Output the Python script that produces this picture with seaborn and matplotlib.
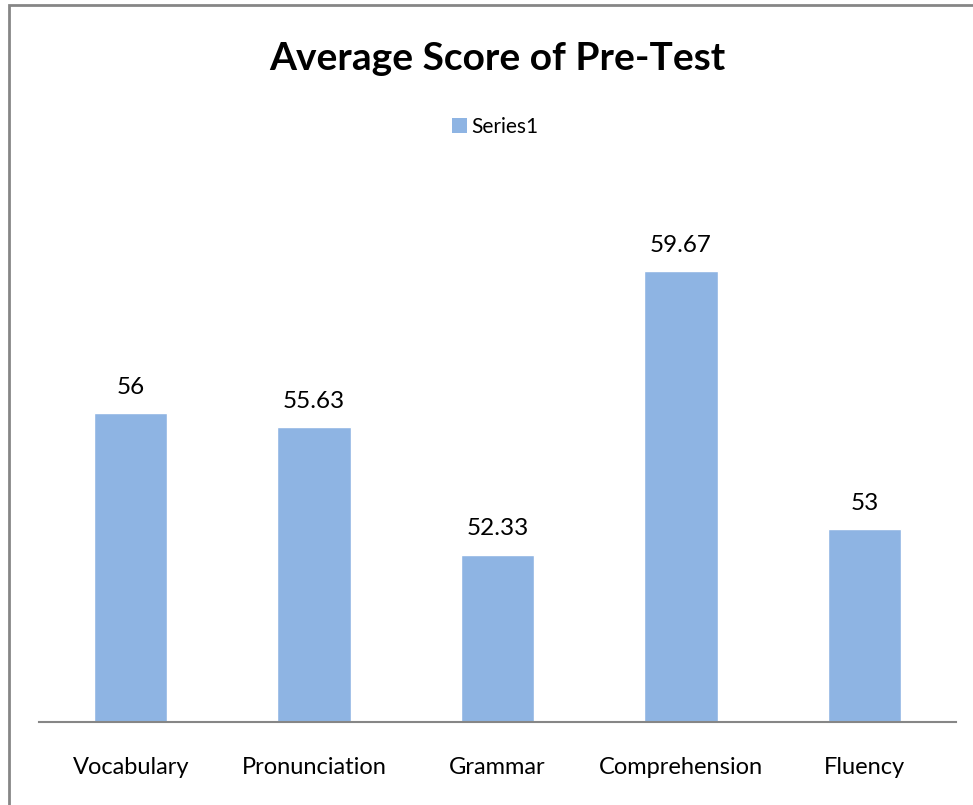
import matplotlib
matplotlib.use("Agg")
import matplotlib.pyplot as plt
import seaborn as sns
import pandas as pd
from matplotlib.patches import Rectangle, Patch

categories = ["Vocabulary", "Pronunciation", "Grammar", "Comprehension", "Fluency"]
values = [56, 55.63, 52.33, 59.67, 53]
value_labels = ["56", "55.63", "52.33", "59.67", "53"]
series_name = "Series1"
title = "Average Score of Pre-Test"

sns.set_theme(style="white")
plt.rcParams['font.family'] = ['Lato', 'DejaVu Sans']

df = pd.DataFrame({"category": categories, "value": values})

fig = plt.figure(figsize=(9.73, 8.05), dpi=100)
ax = fig.add_axes([39/973, 1-722/805, (956-39)/973, (722-181)/805])

bar_color = "#8EB4E3"
sns.barplot(data=df, x="category", y="value", color=bar_color, width=0.4,
            saturation=1, ax=ax)

ax.set_ylim(48, 62)
ax.set_xlim(-0.5, 4.5)
ax.set_xlabel("")
ax.set_ylabel("")
ax.set_yticks([])
for s in ["top", "left", "right"]:
    ax.spines[s].set_visible(False)
ax.spines["bottom"].set_color("#868686")
ax.spines["bottom"].set_linewidth(1.5)
ax.tick_params(axis="x", length=0, pad=25, labelsize=17, labelcolor="black")

ax.bar_label(ax.containers[0], labels=value_labels, padding=11, fontsize=17.5, color="black")

fig.text(497/973, 1-58/805, title, ha="center", va="center", fontsize=28,
         fontweight="bold", color="black")

handles = [Patch(facecolor=bar_color, edgecolor="none")]
fig.legend(handles, [series_name], loc="center", bbox_to_anchor=(495/973, 1-127/805),
           frameon=False, fontsize=15, handlelength=0.7, handleheight=0.7,
           handletextpad=0.2, labelcolor="black")

fig.patches.append(Rectangle((9/973, -0.1), 1.2, 1.1 - 5/805, transform=fig.transFigure,
                             fill=False, edgecolor="#868686", linewidth=2))

fig.savefig("out.png", dpi=100)
